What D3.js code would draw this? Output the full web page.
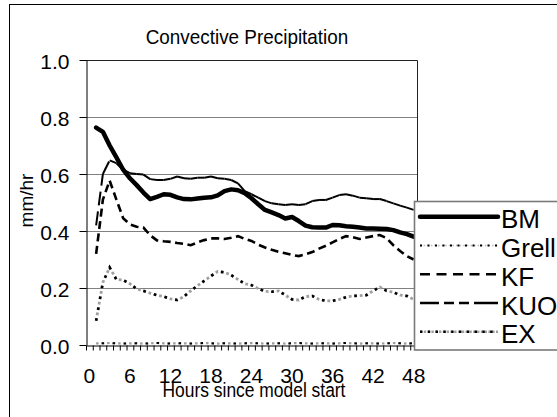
<!DOCTYPE html>
<html>
<head>
<meta charset="utf-8">
<script src="https://cdn.jsdelivr.net/npm/d3@7"></script>
<style>
  html, body { margin: 0; padding: 0; background: #fff; overflow: hidden; }
  svg { display: block; }
  text { font-family: "Liberation Sans", Arial, sans-serif; fill: #000; }
</style>
</head>
<body>
<svg id="chart" width="557" height="417"></svg>
<script>
// Hourly categories (hours since model start) and the labelled ones
const hours = [0,1,2,3,4,5,6,7,8,9,10,11,12,13,14,15,16,17,18,19,20,21,22,23,24,
               25,26,27,28,29,30,31,32,33,34,35,36,37,38,39,40,41,42,43,44,45,46,47,48];
const tickHours = [0, 6, 12, 18, 24, 30, 36, 42, 48];
const yTicks = [0, 0.2, 0.4, 0.6, 0.8, 1.0];

// Convective precipitation (mm/hr) per scheme; no value at hour 0
const bm = [null,
  0.763, 0.748, 0.700, 0.658, 0.615, 0.585, 0.561, 0.535, 0.512, 0.520, 0.529, 0.527,
  0.518, 0.512, 0.511, 0.514, 0.517, 0.518, 0.525, 0.540, 0.546, 0.543, 0.533, 0.515,
  0.494, 0.474, 0.465, 0.456, 0.444, 0.449, 0.435, 0.419, 0.413, 0.412, 0.412, 0.421,
  0.420, 0.417, 0.415, 0.412, 0.409, 0.409, 0.408, 0.407, 0.403, 0.395, 0.389, 0.380];
const grell = [null,
  0.085, 0.220, 0.272, 0.230, 0.228, 0.215, 0.197, 0.190, 0.182, 0.175, 0.170, 0.162,
  0.158, 0.170, 0.190, 0.208, 0.225, 0.242, 0.258, 0.255, 0.245, 0.230, 0.215, 0.210,
  0.198, 0.188, 0.187, 0.190, 0.175, 0.160, 0.158, 0.170, 0.172, 0.160, 0.155, 0.155,
  0.160, 0.168, 0.172, 0.173, 0.175, 0.190, 0.203, 0.190, 0.185, 0.175, 0.172, 0.160];
const kf = [null,
  0.320, 0.510, 0.577, 0.510, 0.445, 0.423, 0.415, 0.412, 0.385, 0.367, 0.364, 0.362,
  0.358, 0.355, 0.350, 0.360, 0.368, 0.374, 0.374, 0.372, 0.376, 0.382, 0.372, 0.365,
  0.352, 0.342, 0.334, 0.327, 0.322, 0.316, 0.312, 0.318, 0.326, 0.338, 0.348, 0.360,
  0.372, 0.382, 0.378, 0.372, 0.377, 0.382, 0.386, 0.375, 0.350, 0.330, 0.312, 0.300];
const kuo = [null,
  0.420, 0.600, 0.648, 0.638, 0.615, 0.603, 0.600, 0.598, 0.582, 0.579, 0.579, 0.583,
  0.591, 0.585, 0.583, 0.587, 0.587, 0.591, 0.585, 0.583, 0.579, 0.567, 0.540, 0.529,
  0.517, 0.505, 0.497, 0.494, 0.491, 0.494, 0.491, 0.494, 0.505, 0.509, 0.509, 0.517,
  0.526, 0.529, 0.524, 0.517, 0.515, 0.512, 0.512, 0.505, 0.497, 0.489, 0.482, 0.474];
const ex = [null,
  0.006, 0.006, 0.007, 0.006, 0.005, 0.006, 0.006, 0.005, 0.006, 0.007, 0.006, 0.005,
  0.006, 0.006, 0.005, 0.006, 0.007, 0.006, 0.005, 0.006, 0.006, 0.005, 0.006, 0.007,
  0.006, 0.005, 0.006, 0.006, 0.005, 0.006, 0.007, 0.006, 0.005, 0.006, 0.006, 0.005,
  0.006, 0.007, 0.006, 0.005, 0.006, 0.006, 0.005, 0.006, 0.007, 0.006, 0.005, 0.006];
const seriesNames = ["BM", "Grell", "KF", "KUO", "EX"];

const svg = d3.select("#chart");
const plot = { left: 86, right: 417, top: 60, bottom: 345 };

const x = d3.scaleBand().domain(hours).range([plot.left, plot.right]).padding(0);
const cx = h => x(h) + x.bandwidth() / 2;
const y = d3.scaleLinear().domain([0, 1]).range([plot.bottom, plot.top]);
// category boundaries, used for the hourly tick marks
const xEdges = d3.scaleLinear().domain([0, hours.length]).range([plot.left, plot.right]);

// outer chart frame
svg.append("rect")
  .attr("x", 9.5).attr("y", 4.5).attr("width", 620).attr("height", 480)
  .attr("fill", "#fff").attr("stroke", "#000").attr("stroke-width", 1);

// horizontal gridlines
svg.append("g").selectAll("line")
  .data(yTicks.filter(v => v > 0 && v < 1))
  .join("line")
  .attr("x1", plot.left).attr("x2", plot.right)
  .attr("y1", d => Math.round(y(d)) + 0.5).attr("y2", d => Math.round(y(d)) + 0.5)
  .attr("stroke", "#808080").attr("stroke-width", 1);

// plot area border (top and right)
svg.append("path")
  .attr("d", `M${plot.left},${plot.top + 0.5}H${plot.right + 0.5}V${plot.bottom}`)
  .attr("fill", "none").attr("stroke", "#222").attr("stroke-width", 1);

// line generator
const line = d3.line()
  .defined(d => d.v != null)
  .x(d => cx(d.h))
  .y(d => y(d.v));
const pts = arr => hours.map((h, i) => ({ h, v: arr[i] }));

const g = svg.append("g").attr("class", "series");

// EX: grey dots with black dots in between
g.append("path").attr("d", line(pts(ex))).attr("fill", "none")
  .attr("stroke", "#9c9c9c").attr("stroke-width", 2.2).attr("stroke-dasharray", "2.5,3");
g.append("path").attr("d", line(pts(ex))).attr("fill", "none")
  .attr("stroke", "#000").attr("stroke-width", 2).attr("stroke-dasharray", "2.5,8.5")
  .attr("stroke-dashoffset", -5.5);

// Grell: grey round dots alternating with black square dots
g.append("path").attr("d", line(pts(grell))).attr("fill", "none")
  .attr("stroke", "#a0a0a0").attr("stroke-width", 2.8).attr("stroke-dasharray", "2.8,2.7")
  .attr("stroke-linecap", "butt");
g.append("path").attr("d", line(pts(grell))).attr("fill", "none")
  .attr("stroke", "#000").attr("stroke-width", 2.6).attr("stroke-dasharray", "2.6,8.4");

// KF: short dashes
g.append("path").attr("d", line(pts(kf))).attr("fill", "none")
  .attr("stroke", "#000").attr("stroke-width", 2.6).attr("stroke-dasharray", "8,4.5");

// KUO: long dash, pattern restarting on every segment
const kuoPts = pts(kuo).filter(d => d.v != null);
g.append("g").selectAll("path")
  .data(d3.pairs(kuoPts))
  .join("path")
  .attr("d", d => line(d))
  .attr("fill", "none").attr("stroke", "#000").attr("stroke-width", 2)
  .attr("stroke-dasharray", "14,6");

// BM: heavy solid
g.append("path").attr("d", line(pts(bm))).attr("fill", "none")
  .attr("stroke", "#000").attr("stroke-width", 4.5)
  .attr("stroke-linejoin", "round").attr("stroke-linecap", "round");

// y axis
const yAxis = svg.append("g")
  .attr("transform", `translate(${plot.left + 0.5},0)`)
  .call(d3.axisLeft(y).tickValues(yTicks).tickSize(7).tickSizeOuter(0)
        .tickPadding(10).tickFormat(d3.format(".1f")));
yAxis.select(".domain").attr("stroke", "#000");
yAxis.selectAll(".tick line").attr("stroke", "#000");
yAxis.selectAll(".tick text")
  .attr("font-size", 21).attr("dy", "0.41em")
  .attr("font-family", "'Liberation Sans', Arial, sans-serif").attr("fill", "#000");

// x axis: hourly tick marks at category boundaries
const xTicks = svg.append("g")
  .attr("transform", `translate(0,${plot.bottom + 0.5})`)
  .call(d3.axisBottom(xEdges).tickValues(d3.range(0, hours.length + 1))
        .tickSize(5).tickSizeOuter(0).tickFormat(""));
xTicks.select(".domain").attr("stroke", "#000");
xTicks.selectAll(".tick line").attr("stroke", "#000");

// x axis labels every six hours, centred on the category
const xLabels = svg.append("g")
  .attr("transform", `translate(0,${plot.bottom})`)
  .call(d3.axisBottom(x).tickValues(tickHours).tickSize(0).tickPadding(23));
xLabels.select(".domain").remove();
xLabels.selectAll(".tick text")
  .attr("font-size", 21)
  .attr("font-family", "'Liberation Sans', Arial, sans-serif").attr("fill", "#000");

// titles
svg.append("text")
  .attr("transform", "translate(247,43.5) scale(0.9,1)")
  .attr("text-anchor", "middle").attr("font-size", 21)
  .text("Convective Precipitation");

svg.append("text")
  .attr("transform", "translate(254,396.5) scale(0.83,1)")
  .attr("text-anchor", "middle").attr("font-size", 21)
  .text("Hours since model start");

svg.append("text")
  .attr("transform", "translate(33,200.5) rotate(-90)")
  .attr("text-anchor", "middle").attr("font-size", 19)
  .text("mm/hr");

// legend
const legend = svg.append("g");
legend.append("rect")
  .attr("x", 414.5).attr("y", 201.5).attr("width", 200).attr("height", 148.5)
  .attr("fill", "#fff").attr("stroke", "#7a7a7a").attr("stroke-width", 1.6);

const rowBase = i => 228.3 + i * 28.75;
const sampleStyles = {
  BM:    [{ stroke: "#000", width: 4.5, dash: null }],
  Grell: [{ stroke: "#bdbdbd", width: 1.6, dash: "1.6,2" },
          { stroke: "#000", width: 2, dash: "2,5.5" }],
  KF:    [{ stroke: "#000", width: 2.6, dash: "10,6.5" }],
  KUO:   [{ stroke: "#000", width: 2.6, dash: "19,5,10,5,10,5,24" }],
  EX:    [{ stroke: "#a0a0a0", width: 2.4, dash: "2.4,1.4" },
          { stroke: "#000", width: 2.4, dash: "2.4,5.4" }]
};
seriesNames.forEach((name, i) => {
  const ly = rowBase(i) - 11.5;
  sampleStyles[name].forEach(s => {
    legend.append("line")
      .attr("x1", 420).attr("x2", 498).attr("y1", ly).attr("y2", ly)
      .attr("stroke", s.stroke).attr("stroke-width", s.width)
      .attr("stroke-dasharray", s.dash)
      .attr("stroke-linecap", name === "BM" ? "round" : "butt");
  });
  legend.append("text")
    .attr("x", 501).attr("y", rowBase(i))
    .attr("font-size", 26)
    .text(name);
});
</script>
</body>
</html>
